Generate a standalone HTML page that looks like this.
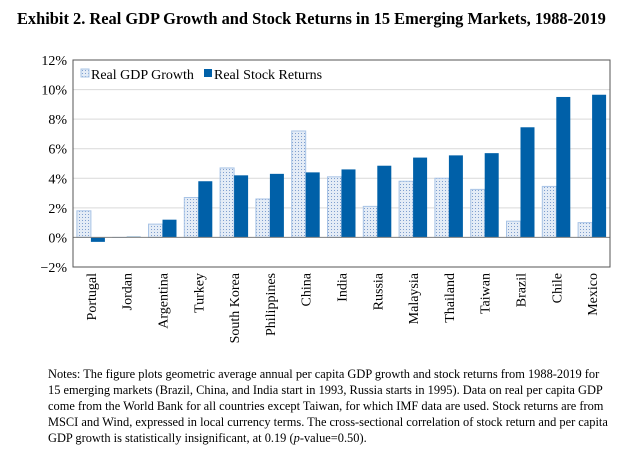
<!DOCTYPE html>
<html><head><meta charset="utf-8"><style>
body{margin:0;background:#fff;width:640px;height:450px;overflow:hidden;font-family:"Liberation Serif",serif;}
#title{position:absolute;left:17px;top:9px;font-size:16.4px;font-weight:bold;color:#000;white-space:nowrap}
#notes{position:absolute;left:48px;top:366px;width:566px;font-size:12.4px;line-height:16px;color:#000}
svg{position:absolute;left:0;top:0}
svg text{font-family:"Liberation Serif",serif}
</style></head><body>
<div id="title">Exhibit 2. Real GDP Growth and Stock Returns in 15 Emerging Markets, 1988-2019</div>
<svg id="chart" width="640" height="360">
<defs><pattern id="dots" width="3" height="3" patternUnits="userSpaceOnUse"><rect width="3" height="3" fill="#e4ecf6"/><rect x="1" y="1" width="1" height="1" fill="#7f9fcf"/></pattern></defs>
</svg>
<div id="notes">Notes: The figure plots geometric average annual per capita GDP growth and stock returns from 1988-2019 for 15 emerging markets (Brazil, China, and India start in 1993, Russia starts in 1995). Data on real per capita GDP come from the World Bank for all countries except Taiwan, for which IMF data are used. Stock returns are from MSCI and Wind, expressed in local currency terms. The cross-sectional correlation of stock return and per capita GDP growth is statistically insignificant, at 0.19 (<i>p</i>-value=0.50).</div>
<script>
const categories=["Portugal","Jordan","Argentina","Turkey","South Korea","Philippines","China","India","Russia","Malaysia","Thailand","Taiwan","Brazil","Chile","Mexico"];
const gdpGrowth=[1.8,0.0,0.9,2.7,4.7,2.6,7.2,4.1,2.1,3.8,4.0,3.25,1.1,3.45,1.0];
const stockReturns=[-0.3,0.05,1.2,3.8,4.2,4.3,4.4,4.6,4.85,5.4,5.55,5.7,7.45,9.5,9.65];
const yTicks=[-2,0,2,4,6,8,10,12];
const NS="http://www.w3.org/2000/svg";
const svg=document.getElementById('chart');
const L=73,R=610,T=60,B=267,ymin=-2,ymax=12;
const y=v=>T+(ymax-v)/(ymax-ymin)*(B-T);
const band=(R-L)/categories.length;
const x=i=>L+band*i;
function mk(t,a){const e=document.createElementNS(NS,t);for(const k in a)e.setAttribute(k,a[k]);svg.appendChild(e);return e;}
yTicks.forEach(t=>{
  if(t!==ymin&&t!==ymax&&t!==0){const g=mk('line',{x1:L,x2:R,y1:y(t),y2:y(t),stroke:'#d9d9d9','stroke-width':1});
  
  }
  const tx=mk('text',{x:L-6,y:y(t)+5,'text-anchor':'end','font-size':14});
  tx.textContent=(t<0?'\u2212'+(-t):t)+'%';
  
  
});
const bw=14;
categories.forEach((c,i)=>{
  const cx=x(i)+band/2;
  const g=gdpGrowth[i],s=stockReturns[i];
  const r1=mk('rect',{x:cx-bw,y:Math.min(y(g),y(0)),width:bw,height:Math.max(Math.abs(y(g)-y(0)),0.01),fill:'url(#dots)',stroke:'#a9c4e6','stroke-width':1});
  
  
  const r2=mk('rect',{x:cx,y:Math.min(y(s),y(0)),width:bw,height:Math.abs(y(s)-y(0)),fill:'#0060a8'});
  
  
  const t=mk('text',{transform:`translate(${cx+5},${B+6}) rotate(-90)`,'text-anchor':'end','font-size':14});
  t.textContent=c;
  
  
});
const z=mk('line',{x1:L,x2:R,y1:y(0),y2:y(0),stroke:'#808080','stroke-width':1});


const box=mk('rect',{x:L,y:T,width:R-L,height:B-T,fill:'none',stroke:'#555','stroke-width':1});


const l1=mk('rect',{x:81,y:69,width:8,height:8,fill:'url(#dots)',stroke:'#a9c4e6'});


const t1=mk('text',{x:91,y:79,'font-size':14});t1.textContent='Real GDP Growth';


const l2=mk('rect',{x:204,y:69,width:8,height:8,fill:'#0060a8'});


const t2=mk('text',{x:214,y:79,'font-size':14});t2.textContent='Real Stock Returns';


</script>
</body></html>
